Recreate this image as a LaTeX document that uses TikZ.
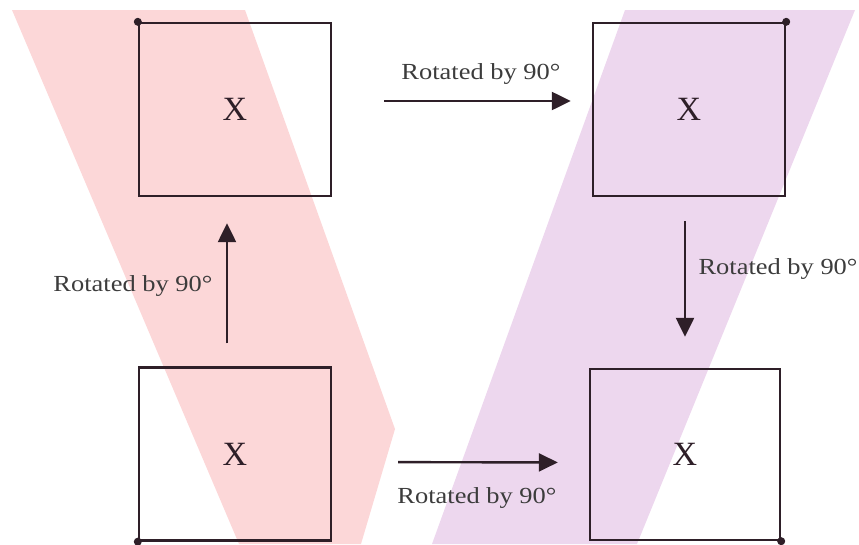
\documentclass[tikz,border=0pt]{standalone}
\usepackage{fontspec}
\setmainfont{Liberation Serif}
\newfontfamily\rotfont[FakeStretch=1.15]{Liberation Serif}
\usetikzlibrary{arrows.meta,positioning}
\definecolor{Rosa}{HTML}{FCD7D8}
\definecolor{Lila}{HTML}{EDD7EE}
\definecolor{Tinta}{HTML}{2E1F28}
\definecolor{Gris}{HTML}{3C3C3C}

\begin{document}
\begin{tikzpicture}[x=1pt,y=-1pt,
  sqbox/.style={draw=Tinta,line width=2.4pt,minimum width=192pt,minimum height=173pt,inner sep=0pt,text=Tinta,font=\fontsize{34}{34}\selectfont},
  rotarrow/.style={-{Triangle[length=19pt,width=18pt]},line width=2.4pt,Tinta},
  rotlabel/.style={text=Gris,font=\rotfont\fontsize{23}{23}\selectfont}]
\useasboundingbox (0,0) rectangle (859,544);
\fill[Rosa] (12,10)--(245,10)--(395,429)--(361,544)--(239,544)--cycle;
\fill[Lila] (625,10)--(855,10)--(637,544)--(432,544)--cycle;
\node[sqbox] (tl) at (235,109.5) {X};
\node[sqbox] (tr) at (689,109.5) {X};
\node[sqbox] (bl) at (235,454) {X};
\node[sqbox,minimum width=190pt,minimum height=171pt] (br) at (685,454.5) {X};
\fill[Tinta] (tl.north west) circle (4pt);
\fill[Tinta] (tr.north east) circle (4pt);
\fill[Tinta] (bl.south west) circle (4pt);
\fill[Tinta] (br.south east) circle (4pt);
\draw[rotarrow,shorten <=52pt,shorten >=21pt] ([yshift=8.5pt]tl.east) -- node[rotlabel,pos=0.573,above=12pt]{Rotated by 90°} ([yshift=8.5pt]tr.west);
\draw[rotarrow,shorten <=23pt,shorten >=26pt] ([xshift=-8pt]bl.north) -- node[rotlabel,left=10pt,yshift=-4pt]{Rotated by 90°} ([xshift=-8pt]tl.south);
\draw[rotarrow,shorten <=24pt,shorten >=31pt] ([xshift=-4pt]tr.south) -- node[rotlabel,pos=0.42,right=9pt]{Rotated by 90°} (br.north);
\draw[rotarrow,shorten <=66pt,shorten >=31pt] ([yshift=-8pt]bl.east) -- node[rotlabel,pos=0.564,below=21pt]{Rotated by 90°} ([yshift=-8pt]br.west);
\end{tikzpicture}
\end{document}
